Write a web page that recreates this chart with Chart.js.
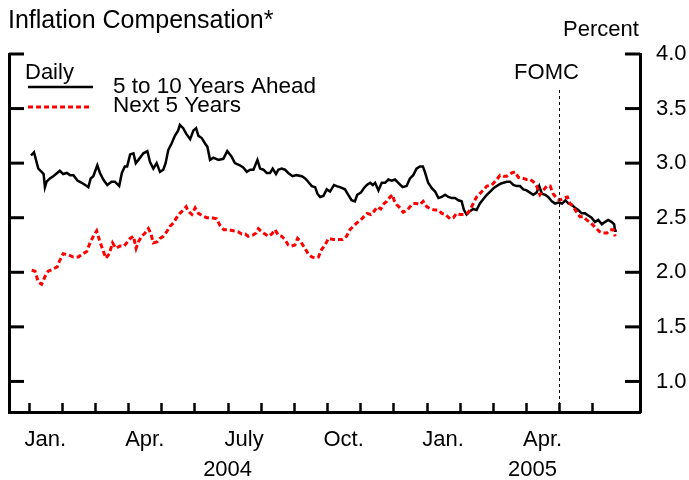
<!DOCTYPE html>
<html>
<head>
<meta charset="utf-8">
<script src="https://cdn.jsdelivr.net/npm/chart.js@4"></script>
<style>
  body { margin: 0; background: #fff; }
</style>
</head>
<body>
<canvas id="chart" width="689" height="480"></canvas>
<script>
// x values are months since 1 Jan 2004 (0 = Jan. 2004, 12 = Jan. 2005)
const longMonth = [0.07, 0.16, 0.22, 0.29, 0.39, 0.45, 0.49, 0.54, 0.64, 0.74, 0.86, 0.94, 1.04, 1.15, 1.25, 1.35, 1.47, 1.60, 1.75, 1.80,
    1.87, 1.95, 2.07, 2.15, 2.25, 2.37, 2.50, 2.60, 2.73, 2.81, 2.90, 2.97, 3.06, 3.16, 3.23, 3.31, 3.46, 3.58, 3.66, 3.76,
    3.86, 3.96, 4.06, 4.13, 4.21, 4.31, 4.41, 4.51, 4.56, 4.66, 4.75, 4.87, 4.97, 5.05, 5.12, 5.22, 5.32, 5.39, 5.47, 5.57,
    5.72, 5.87, 5.99, 6.12, 6.22, 6.37, 6.47, 6.58, 6.68, 6.78, 6.90, 6.98, 7.08, 7.18, 7.28, 7.36, 7.46, 7.53, 7.63, 7.73,
    7.83, 7.96, 8.08, 8.24, 8.34, 8.43, 8.54, 8.64, 8.71, 8.79, 8.89, 8.99, 9.09, 9.21, 9.29, 9.39, 9.54, 9.64, 9.74, 9.84,
    9.91, 10.02, 10.11, 10.20, 10.30, 10.38, 10.45, 10.55, 10.65, 10.75, 10.85, 10.95, 11.05, 11.15, 11.28, 11.40, 11.50, 11.60, 11.70, 11.80,
    11.89, 11.95, 12.05, 12.16, 12.26, 12.36, 12.46, 12.56, 12.66, 12.76, 12.86, 12.96, 13.06, 13.13, 13.21, 13.31, 13.41, 13.51, 13.61, 13.71,
    13.82, 13.92, 14.02, 14.12, 14.22, 14.32, 14.42, 14.52, 14.62, 14.72, 14.82, 14.92, 15.02, 15.12, 15.22, 15.32, 15.40, 15.48, 15.58, 15.67,
    15.78, 15.88, 15.98, 16.09, 16.19, 16.28, 16.38, 16.48, 16.58, 16.68, 16.78, 16.88, 16.98, 17.08, 17.18, 17.29, 17.38, 17.48, 17.59, 17.66,
    17.69, 17.74];
const longValues = [3.07, 3.10, 3.03, 2.95, 2.92, 2.90, 2.78, 2.83, 2.86, 2.88, 2.91, 2.93, 2.90, 2.91, 2.89, 2.89, 2.84, 2.82, 2.79, 2.78,
    2.86, 2.88, 2.98, 2.91, 2.85, 2.80, 2.83, 2.83, 2.79, 2.91, 2.97, 2.97, 3.08, 3.09, 3.00, 3.03, 3.09, 3.11, 3.01, 2.95,
    3.00, 2.92, 2.94, 3.00, 3.12, 3.18, 3.25, 3.30, 3.35, 3.32, 3.27, 3.22, 3.30, 3.32, 3.25, 3.23, 3.18, 3.15, 3.03, 3.05,
    3.03, 3.04, 3.11, 3.06, 3.00, 2.98, 2.96, 2.92, 2.94, 2.94, 3.03, 2.95, 2.94, 2.91, 2.91, 2.95, 2.90, 2.94, 2.95, 2.94,
    2.91, 2.88, 2.89, 2.88, 2.86, 2.83, 2.79, 2.78, 2.72, 2.69, 2.70, 2.76, 2.74, 2.80, 2.79, 2.78, 2.76, 2.71, 2.66, 2.65,
    2.71, 2.73, 2.77, 2.80, 2.82, 2.80, 2.82, 2.75, 2.82, 2.82, 2.85, 2.84, 2.85, 2.82, 2.78, 2.79, 2.86, 2.89, 2.95, 2.97,
    2.97, 2.92, 2.82, 2.77, 2.74, 2.68, 2.69, 2.71, 2.69, 2.68, 2.68, 2.66, 2.65, 2.57, 2.53, 2.56, 2.58, 2.57, 2.63, 2.67,
    2.71, 2.74, 2.77, 2.79, 2.81, 2.82, 2.83, 2.83, 2.80, 2.79, 2.79, 2.76, 2.75, 2.73, 2.71, 2.73, 2.79, 2.72, 2.71, 2.69,
    2.65, 2.63, 2.64, 2.63, 2.66, 2.63, 2.62, 2.59, 2.57, 2.54, 2.54, 2.52, 2.50, 2.46, 2.48, 2.44, 2.46, 2.48, 2.46, 2.44,
    2.38, 2.38];

const nearMonth = [0.09, 0.19, 0.29, 0.39, 0.49, 0.59, 0.74, 0.86, 0.94, 1.04, 1.19, 1.35, 1.50, 1.63, 1.75, 1.85, 1.95, 2.05, 2.13, 2.23,
    2.33, 2.43, 2.53, 2.63, 2.75, 2.87, 2.96, 3.06, 3.16, 3.24, 3.31, 3.41, 3.51, 3.61, 3.68, 3.76, 3.88, 3.96, 4.06, 4.16,
    4.26, 4.36, 4.46, 4.56, 4.66, 4.75, 4.81, 4.92, 5.02, 5.12, 5.22, 5.37, 5.52, 5.67, 5.77, 5.89, 6.02, 6.17, 6.32, 6.43,
    6.53, 6.62, 6.76, 6.86, 6.93, 7.03, 7.13, 7.23, 7.33, 7.43, 7.53, 7.63, 7.73, 7.83, 7.93, 8.03, 8.11, 8.21, 8.33, 8.43,
    8.54, 8.64, 8.74, 8.84, 8.94, 9.04, 9.19, 9.34, 9.47, 9.59, 9.69, 9.79, 9.89, 10.02, 10.11, 10.21, 10.32, 10.42, 10.52, 10.62,
    10.72, 10.80, 10.90, 10.98, 11.02, 11.10, 11.20, 11.30, 11.42, 11.50, 11.60, 11.70, 11.80, 11.90, 12.01, 12.13, 12.26, 12.36, 12.46, 12.57,
    12.71, 12.81, 12.91, 13.01, 13.13, 13.23, 13.31, 13.41, 13.51, 13.67, 13.82, 13.97, 14.12, 14.22, 14.32, 14.42, 14.57, 14.67, 14.77, 14.92,
    15.02, 15.12, 15.22, 15.32, 15.42, 15.52, 15.63, 15.73, 15.82, 15.92, 16.02, 16.13, 16.25, 16.33, 16.43, 16.55, 16.63, 16.73, 16.83, 16.93,
    17.03, 17.13, 17.23, 17.33, 17.44, 17.54, 17.64, 17.69];
const nearValues = [2.02, 2.01, 1.91, 1.89, 1.96, 2.01, 2.03, 2.05, 2.11, 2.17, 2.16, 2.14, 2.14, 2.17, 2.19, 2.27, 2.33, 2.38, 2.30, 2.21,
    2.13, 2.17, 2.27, 2.22, 2.24, 2.24, 2.27, 2.31, 2.33, 2.22, 2.28, 2.33, 2.36, 2.40, 2.36, 2.27, 2.28, 2.31, 2.33, 2.37,
    2.42, 2.45, 2.50, 2.54, 2.57, 2.60, 2.56, 2.53, 2.59, 2.54, 2.52, 2.50, 2.50, 2.49, 2.43, 2.39, 2.39, 2.38, 2.37, 2.35,
    2.35, 2.33, 2.34, 2.36, 2.40, 2.37, 2.35, 2.33, 2.35, 2.39, 2.34, 2.33, 2.30, 2.25, 2.24, 2.25, 2.31, 2.28, 2.22, 2.17,
    2.14, 2.13, 2.14, 2.21, 2.25, 2.31, 2.30, 2.30, 2.30, 2.33, 2.39, 2.42, 2.45, 2.48, 2.51, 2.54, 2.53, 2.56, 2.60, 2.58,
    2.63, 2.65, 2.69, 2.71, 2.66, 2.62, 2.59, 2.55, 2.57, 2.60, 2.63, 2.63, 2.62, 2.65, 2.60, 2.58, 2.57, 2.57, 2.54, 2.53,
    2.49, 2.50, 2.54, 2.53, 2.53, 2.54, 2.57, 2.63, 2.69, 2.74, 2.79, 2.80, 2.85, 2.89, 2.88, 2.88, 2.91, 2.92, 2.87, 2.86,
    2.85, 2.85, 2.83, 2.79, 2.71, 2.75, 2.79, 2.79, 2.72, 2.68, 2.66, 2.68, 2.69, 2.63, 2.60, 2.54, 2.51, 2.51, 2.48, 2.46,
    2.43, 2.40, 2.37, 2.36, 2.36, 2.39, 2.39, 2.33];

const quarterPos = [0.5, 3.5, 6.5, 9.5, 12.5, 15.5];
const quarterLabels = ["Jan.", "Apr.", "July", "Oct.", "Jan.", "Apr."];
const yearPos = [6.0, 15.2];
const yearLabels = ["2004", "2005"];
const monthTicks = Array.from({ length: 18 }, (_, i) => i);
const yTicks = [1.0, 1.5, 2.0, 2.5, 3.0, 3.5, 4.0];
const fomcMonth = 16.0;

const xMin = -0.594;
const xMax = 18.44;
const font = "'Liberation Sans', Arial, sans-serif";

function toPoints(xs, ys) {
    return xs.map((x, i) => ({ x: x, y: ys[i] }));
}

const decorations = {
    id: "decorations",
    afterDraw(chart) {
        const { ctx, chartArea: a, scales } = chart;
        const line = (x1, y1, x2, y2) => {
            ctx.beginPath();
            ctx.moveTo(x1, y1);
            ctx.lineTo(x2, y2);
            ctx.stroke();
        };
        ctx.save();
        ctx.strokeStyle = "#000";
        ctx.lineWidth = 3;
        yTicks.forEach(v => {
            const py = scales.y.getPixelForValue(v);
            line(a.left, py, a.left + 15, py);
            line(a.right - 15, py, a.right, py);
        });
        ctx.lineWidth = 2.5;
        monthTicks.forEach(m => {
            const px = Math.round(scales.x.getPixelForValue(m)) + 0.5;
            line(px, a.bottom, px, a.bottom - 9);
        });

        // FOMC marker
        const fx = Math.round(scales.x.getPixelForValue(fomcMonth)) + 0.5;
        ctx.lineWidth = 1;
        ctx.setLineDash([3, 3]);
        line(fx, 90, fx, a.bottom);
        ctx.setLineDash([]);

        // legend samples
        ctx.lineWidth = 2.5;
        line(28, 87, 93, 87);
        ctx.strokeStyle = "#ff0000";
        ctx.lineWidth = 3;
        ctx.setLineDash([5, 3]);
        line(28, 107, 91, 107);
        ctx.setLineDash([]);

        ctx.fillStyle = "#000";
        ctx.textBaseline = "middle";
        ctx.textAlign = "left";
        ctx.font = "25px " + font;
        ctx.fillText("Inflation Compensation*", 8, 21);
        ctx.font = "22px " + font;
        ctx.fillText("Percent", 563, 30);
        ctx.fillText("Daily", 25, 73);
        ctx.font = "22.5px " + font;
        ctx.fillText("5 to 10 Years Ahead", 113, 87);
        ctx.fillText("Next 5 Years", 113, 106);
        ctx.font = "22px " + font;
        ctx.textAlign = "center";
        ctx.fillText("FOMC", fx - 13, 73);
        ctx.restore();
    }
};

const ctx = document.getElementById("chart").getContext("2d");

const chart = new Chart(ctx, {
    type: "line",
    data: {
        datasets: [{
            label: "5 to 10 Years Ahead",
            data: toPoints(longMonth, longValues),
            borderColor: "#000000",
            borderWidth: 2.5,
            pointRadius: 0,
            tension: 0,
            order: 1
        }, {
            label: "Next 5 Years",
            data: toPoints(nearMonth, nearValues),
            borderColor: "#ff0000",
            borderWidth: 3,
            borderDash: [5, 3],
            pointRadius: 0,
            tension: 0,
            order: 0
        }]
    },
    options: {
        responsive: false,
        animation: false,
        layout: { padding: { left: 9, top: 54, right: 0, bottom: 0 } },
        plugins: {
            legend: { display: false },
            tooltip: { enabled: false }
        },
        scales: {
            x: {
                type: "linear",
                position: "bottom",
                weight: 0,
                min: xMin,
                max: xMax,
                afterBuildTicks: s => { s.ticks = quarterPos.map(v => ({ value: v })); },
                afterFit: s => { s.height = 45; },
                grid: { drawOnChartArea: false, drawTicks: false },
                border: { display: true, color: "#000", width: 3 },
                ticks: {
                    autoSkip: false,
                    maxRotation: 0,
                    padding: 15,
                    color: "#000",
                    font: { family: font, size: 22 },
                    callback: (v, i) => quarterLabels[i]
                }
            },
            x2: {
                type: "linear",
                position: "bottom",
                weight: 1,
                min: xMin,
                max: xMax,
                afterBuildTicks: s => { s.ticks = yearPos.map(v => ({ value: v })); },
                afterFit: s => { s.height = 23; },
                grid: { display: false },
                border: { display: false },
                ticks: {
                    autoSkip: false,
                    maxRotation: 0,
                    padding: -8,
                    color: "#000",
                    font: { family: font, size: 22 },
                    callback: (v, i) => yearLabels[i]
                }
            },
            y: {
                position: "right",
                min: 0.72,
                max: 4.0,
                afterBuildTicks: s => { s.ticks = yTicks.map(v => ({ value: v })); },
                afterFit: s => { s.width = 49; },
                grid: { drawOnChartArea: false, drawTicks: false },
                border: { display: true, color: "#000", width: 3 },
                ticks: {
                    padding: 16,
                    color: "#000",
                    font: { family: font, size: 22 },
                    callback: v => v.toFixed(1)
                }
            },
            yl: {
                position: "left",
                min: 0.72,
                max: 4.0,
                afterFit: s => { s.width = 0; },
                grid: { drawOnChartArea: false, drawTicks: false },
                border: { display: true, color: "#000", width: 3 },
                ticks: { display: false }
            }
        }
    },
    plugins: [decorations]
});
</script>
</body>
</html>
